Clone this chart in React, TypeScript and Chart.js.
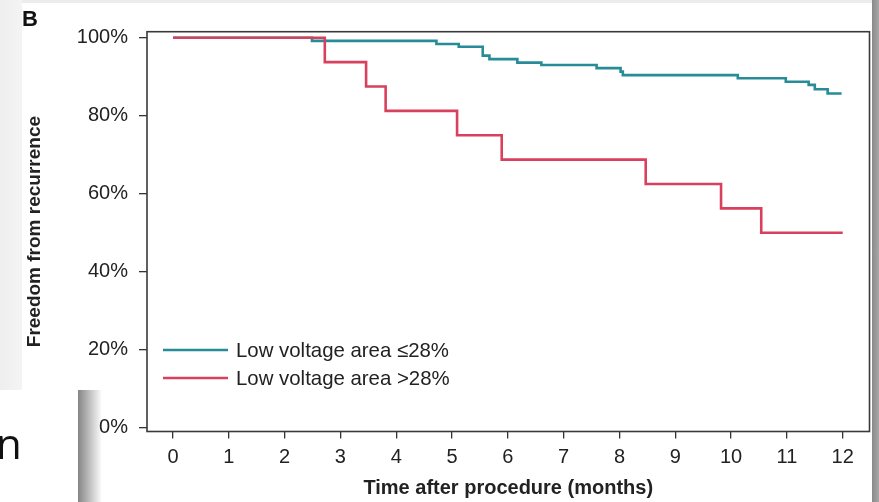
import React, { useEffect, useRef } from "react";
import { Chart, registerables } from "chart.js";

Chart.register(...registerables);

// ---- data ----
const monthTicks = [0, 1, 2, 3, 4, 5, 6, 7, 8, 9, 10, 11, 12];
const percentTicks = [0, 20, 40, 60, 80, 100];

const lowTimes = [0, 2.49, 4.72, 5.12, 5.55, 5.67, 6.17, 6.6, 7.59, 8.02, 8.06, 10.12, 10.98, 11.39, 11.5, 11.73, 11.98];
const lowValues = [100, 99.2, 98.4, 97.7, 95.4, 94.5, 93.6, 93.0, 92.2, 91.3, 90.4, 89.6, 88.7, 87.9, 86.8, 85.7, 85.7];

const highTimes = [0, 2.72, 3.46, 3.81, 5.09, 5.89, 8.47, 9.82, 10.54, 12];
const highValues = [100, 93.75, 87.5, 81.25, 75, 68.75, 62.5, 56.25, 50, 50];

const seriesLabels = ["Low voltage area \u226428%", "Low voltage area >28%"];
const xTitle = "Time after procedure (months)";
const yTitle = "Freedom from recurrence";
const panelLetter = "B";

const TEAL = "#278c97";
const RED = "#d8405d";
const INK = "#222222";
const FONT = "'Liberation Sans', Arial, Helvetica, sans-serif";
const TICK_SIZE = 20;
const LEGEND_SIZE = 20.4;

const legendPlugin = {
  id: "kmLegend",
  afterDatasetsDraw(chart: any) {
    const { ctx, chartArea } = chart;
    const items = [
      { label: seriesLabels[0], color: TEAL, y: chartArea.bottom - 81.5 },
      { label: seriesLabels[1], color: RED, y: chartArea.bottom - 53.5 },
    ];
    ctx.save();
    items.forEach((it) => {
      ctx.strokeStyle = it.color;
      ctx.lineWidth = 2.6;
      ctx.beginPath();
      ctx.moveTo(chartArea.left + 16, it.y);
      ctx.lineTo(chartArea.left + 81, it.y);
      ctx.stroke();
      ctx.fillStyle = INK;
      ctx.font = `${LEGEND_SIZE}px ${FONT}`;
      ctx.textAlign = "left";
      ctx.textBaseline = "middle";
      ctx.fillText(it.label, chartArea.left + 89, it.y + 1);
    });
    ctx.restore();
  },
};

const boxPlugin = {
  id: "boxFrame",
  afterDraw(chart: any) {
    const { ctx, chartArea } = chart;
    ctx.save();
    ctx.strokeStyle = "#3a3a3a";
    ctx.lineWidth = 1.6;
    ctx.strokeRect(chartArea.left, chartArea.top, chartArea.right - chartArea.left, chartArea.bottom - chartArea.top);
    ctx.restore();
  },
};

function KMChart() {
  const ref = useRef<HTMLCanvasElement | null>(null);
  useEffect(() => {
    if (!ref.current) return;
    const chart = new Chart(ref.current, {
      type: "line",
      data: {
        datasets: [
          {
            label: seriesLabels[0],
            data: lowTimes.map((t, i) => ({ x: t, y: lowValues[i] })),
            borderColor: TEAL,
            borderWidth: 2.6,
            pointRadius: 0,
            stepped: "before",
            fill: false,
            order: 2,
          },
          {
            label: seriesLabels[1],
            data: highTimes.map((t, i) => ({ x: t, y: highValues[i] })),
            borderColor: RED,
            borderWidth: 2.6,
            pointRadius: 0,
            stepped: "before",
            fill: false,
            order: 1,
          },
        ],
      },
      options: {
        animation: false,
        responsive: false,
        devicePixelRatio: 1,
        layout: { padding: { top: 31.7, right: 9.5, left: 0, bottom: 0 } },
        plugins: { legend: { display: false }, tooltip: { enabled: false } },
        scales: {
          x: {
            type: "linear",
            min: -0.466,
            max: 12.48,
            afterBuildTicks: (s: any) => {
              s.ticks = monthTicks.map((v) => ({ value: v }));
            },
            afterFit: (s: any) => {
              s.height = 70.5;
            },
            border: { display: false },
            grid: { drawOnChartArea: false, drawTicks: true, tickLength: 7, color: "#333", lineWidth: 1.3 },
            ticks: { color: INK, font: { family: FONT, size: TICK_SIZE }, padding: 7, maxRotation: 0 },
            title: {
              display: true,
              text: xTitle,
              color: INK,
              font: { family: FONT, size: 20, weight: "bold" },
              padding: { top: 0, bottom: 1.7 },
            },
          },
          y: {
            type: "linear",
            min: -0.97,
            max: 101.54,
            afterBuildTicks: (s: any) => {
              s.ticks = percentTicks.map((v) => ({ value: v }));
            },
            afterFit: (s: any) => {
              s.width = 147;
            },
            border: { display: false },
            grid: { drawOnChartArea: false, drawTicks: true, tickLength: 8, color: "#333", lineWidth: 1.3 },
            ticks: {
              color: INK,
              font: { family: FONT, size: TICK_SIZE },
              padding: 11,
              callback: (v: any) => `${v}%`,
            },
            title: {
              display: true,
              text: yTitle,
              color: INK,
              font: { family: FONT, size: 19, weight: "bold" },
              padding: { top: 23, bottom: 0 },
            },
          },
        },
      },
      plugins: [legendPlugin, boxPlugin],
    } as any);
    return () => chart.destroy();
  }, []);
  return <canvas ref={ref} width={879} height={502} style={{ display: "block", position: "absolute", left: 0, top: 0 }} />;
}

export default function App() {
  return (
    <div style={{ position: "relative", width: 879, height: 502, background: "#fff", overflow: "hidden" }}>
      <style>{`body{margin:0;}`}</style>
      {/* top and left page bands */}
      <div style={{ position: "absolute", left: 0, top: 0, width: 879, height: 3, background: "#ececec" }} />
      <div style={{ position: "absolute", left: 0, top: 0, width: 22, height: 390, background: "linear-gradient(to right, #eeeeee, #f4f4f4)" }} />
      {/* right shadow */}
      <div style={{ position: "absolute", left: 872, top: 0, width: 7, height: 502, background: "linear-gradient(to right, #8a8a8a, #a8a8a8)" }} />
      <KMChart />
      <div style={{ position: "absolute", left: 22, top: 7, fontFamily: FONT, fontWeight: "bold", fontSize: 22, color: "#111", lineHeight: "24px" }}>
        {panelLetter}
      </div>
      {/* overlapping slide fragment at bottom-left */}
      <div style={{ position: "absolute", left: 0, top: 390, width: 78, height: 112, background: "#fff" }}>
        <div style={{ position: "absolute", left: -4, top: 28, fontFamily: "'Open Sans', 'DejaVu Sans', sans-serif", fontSize: 42, color: "#111", lineHeight: "50px" }}>n</div>
      </div>
      <div style={{ position: "absolute", left: 78, top: 390, width: 24, height: 112, background: "linear-gradient(to right, rgba(110,110,110,0.85), rgba(255,255,255,0))" }} />
    </div>
  );
}
